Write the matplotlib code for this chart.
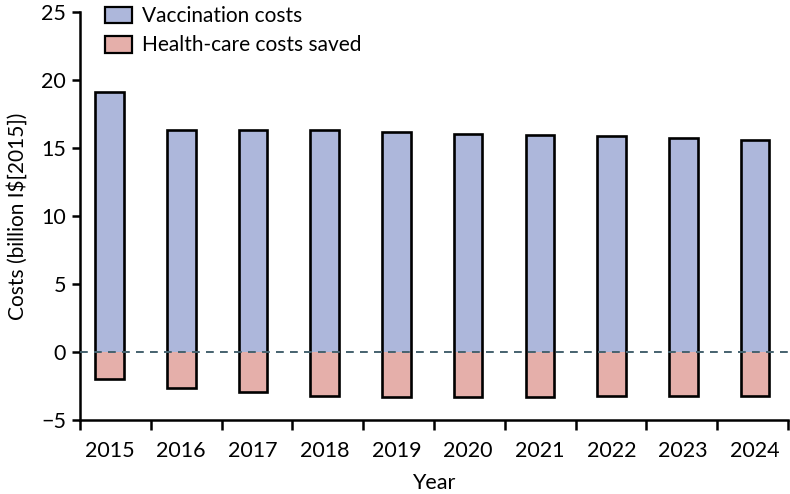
import numpy as np
import matplotlib
matplotlib.use("Agg")
import matplotlib.pyplot as plt
from matplotlib.patches import Patch

years = ["2015", "2016", "2017", "2018", "2019", "2020", "2021", "2022", "2023", "2024"]
vaccination = [19.1, 16.3, 16.3, 16.3, 16.15, 16.05, 15.95, 15.9, 15.75, 15.6]
saved = [-1.98, -2.62, -2.97, -3.21, -3.33, -3.31, -3.3, -3.26, -3.21, -3.26]

blue = "#adb7db"
pink = "#e5afaa"

plt.rcParams['font.family'] = ['Lato', 'DejaVu Sans']

fig = plt.figure(figsize=(7.9, 4.94), dpi=100)
ax = fig.add_axes([0.1013, 0.1498, 0.8962, 0.8259])

x = np.arange(len(years))
w = 0.40
ax.bar(x, vaccination, width=w, color=blue, edgecolor="none", zorder=2)
ax.bar(x, saved, width=w, color=pink, edgecolor="none", zorder=2)
# outline round the whole stack
ax.bar(x, np.array(vaccination) - np.array(saved), bottom=saved, width=w,
       fill=False, edgecolor="black", linewidth=1.9, zorder=3)

ax.axhline(0, color="#45626f", linestyle=(0, (4, 3.2)), linewidth=1.4, zorder=4)

ax.set_xlim(-0.411, 9.46)
ax.set_ylim(-5, 25)
ax.set_yticks([-5, 0, 5, 10, 15, 20, 25])
ax.set_yticklabels(["\u22125", "0", "5", "10", "15", "20", "25"])
ax.set_xticks(x)
ax.set_xticklabels(years)
ax.set_xticks(np.linspace(-0.411, 9.46, 11), minor=True)
ax.tick_params(axis="x", which="major", length=0, pad=15, labelsize=15.5)
ax.tick_params(axis="x", which="minor", length=7, width=1.8, direction="out")
ax.tick_params(axis="y", length=6, width=1.8, pad=4, labelsize=15.5)

for side in ["top", "right"]:
    ax.spines[side].set_visible(False)
for side in ["left", "bottom"]:
    ax.spines[side].set_linewidth(1.8)

ax.set_ylabel("Costs (billion I\\$[2015])", fontsize=15, labelpad=10)
ax.set_xlabel("Year", fontsize=15.5, labelpad=9)

handles = [Patch(facecolor=blue, edgecolor="black", linewidth=1.6, label="Vaccination costs"),
           Patch(facecolor=pink, edgecolor="black", linewidth=1.6, label="Health-care costs saved")]
ax.legend(handles=handles, loc="upper left", bbox_to_anchor=(0.024, 1.035), frameon=False,
          fontsize=15, handlelength=1.3, handleheight=0.85, handletextpad=0.45,
          labelspacing=0.45, borderaxespad=0)

fig.savefig("out.png", dpi=100)
